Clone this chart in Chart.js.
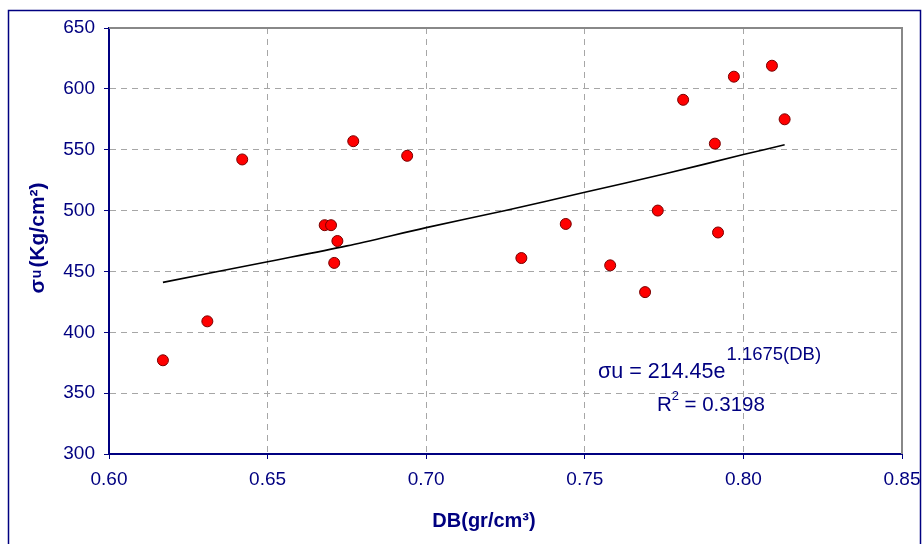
<!DOCTYPE html>
<html>
<head>
<meta charset="utf-8">
<script src="https://cdn.jsdelivr.net/npm/chart.js@4/dist/chart.umd.min.js"></script>
<style>
  html, body { margin: 0; padding: 0; background: #fff; }
  #wrap { width: 923px; height: 544px; position: relative; }
</style>
</head>
<body>
<div id="wrap"><canvas id="c"></canvas></div>
<script>
// measured samples: density DB (gr/cm3) vs strength (Kg/cm2)
const dbValues = [0.617, 0.631, 0.642, 0.668, 0.670, 0.671, 0.672, 0.677, 0.694, 0.730,
                  0.744, 0.758, 0.769, 0.773, 0.781, 0.791, 0.792, 0.797, 0.809, 0.813];
const sigmaValues = [377, 409, 542, 488, 488, 457, 475, 557, 545, 461,
                     489, 455, 433, 500, 591, 555, 482, 610, 619, 575];

// exponential trend line
const trendDB    = [0.617, 0.650, 0.675, 0.700, 0.725, 0.750, 0.775, 0.800, 0.813];
const trendSigma = [441, 458, 471, 486, 500, 515, 530, 546, 554];

const xTicks = { min: 0.60, max: 0.85, step: 0.05 };
const yTicks = { min: 300, max: 650, step: 50 };

const eqMain = 'σu = 214.45e';
const eqExp  = '1.1675(DB)';
const eqR2   = '0.3198';

const NAVY = '#000080';
const FONT = '"Liberation Sans", Arial, sans-serif';

const decor = {
  id: 'decor',
  beforeDraw(chart) {
    const c = chart.ctx;
    c.save();
    c.fillStyle = '#fff';
    c.fillRect(0, 0, chart.width, chart.height);
    c.strokeStyle = NAVY;
    c.lineWidth = 1.5;
    c.strokeRect(8.5, 10.5, 912, 560);
    c.restore();
  },
  afterDraw(chart) {
    const c = chart.ctx, a = chart.chartArea;
    c.save();
    // top & right plot border
    c.strokeStyle = '#888';
    c.lineWidth = 2;
    c.beginPath();
    c.moveTo(a.left, a.top);
    c.lineTo(a.right, a.top);
    c.lineTo(a.right, a.bottom);
    c.stroke();

    c.fillStyle = NAVY;
    // x title
    c.font = 'bold 20px ' + FONT;
    c.textAlign = 'center';
    c.textBaseline = 'middle';
    c.fillText('DB(gr/cm³)', 484, 521);

    // y title, rotated
    c.save();
    c.translate(37, 238);
    c.rotate(-Math.PI / 2);
    const p1 = 'σ', p2 = 'u', p3 = '(Kg/cm²)';
    c.font = 'bold 21px ' + FONT;
    const w1 = c.measureText(p1).width, w3 = c.measureText(p3).width;
    c.font = 'bold 14px ' + FONT;
    const w2 = c.measureText(p2).width + 3;
    let x = -(w1 + w2 + w3) / 2;
    c.textAlign = 'left';
    c.textBaseline = 'alphabetic';
    c.font = 'bold 21px ' + FONT;
    c.fillText(p1, x, 7);
    c.font = 'bold 14px ' + FONT;
    c.fillText(p2, x + w1 + 1, 4);
    c.font = 'bold 21px ' + FONT;
    c.fillText(p3, x + w1 + w2, 7);
    c.restore();

    // trend equation
    c.textAlign = 'left';
    c.textBaseline = 'alphabetic';
    c.font = '21.5px ' + FONT;
    c.fillText(eqMain, 598, 378);
    const wm = c.measureText(eqMain).width;
    c.font = '18.5px ' + FONT;
    c.fillText(eqExp, 599 + wm, 360);
    c.font = '20.5px ' + FONT;
    c.fillText('R', 657, 411);
    const wr = c.measureText('R').width;
    c.font = '13px ' + FONT;
    c.fillText('2', 657 + wr, 400);
    c.font = '20.5px ' + FONT;
    c.fillText(' = ' + eqR2, 657 + wr + 7, 411);
    c.restore();
  }
};

new Chart(document.getElementById('c'), {
  type: 'scatter',
  data: {
    datasets: [
      {
        label: 'samples',
        data: dbValues.map((x, i) => ({ x: x, y: sigmaValues[i] })),
        backgroundColor: '#ff0000',
        borderColor: '#7a0000',
        borderWidth: 1,
        pointRadius: 5.5,
        order: 1
      },
      {
        label: 'trend',
        type: 'line',
        data: trendDB.map((x, i) => ({ x: x, y: trendSigma[i] })),
        borderColor: '#000',
        borderWidth: 1.6,
        pointRadius: 0,
        tension: 0.3,
        fill: false,
        order: 2
      }
    ]
  },
  options: {
    responsive: true,
    maintainAspectRatio: false,
    animation: false,
    layout: { padding: { top: 28, right: 21, left: 0, bottom: 0 } },
    plugins: { legend: { display: false }, tooltip: { enabled: false } },
    scales: {
      x: {
        type: 'linear',
        min: xTicks.min, max: xTicks.max,
        afterFit: s => { s.height = 90; s.paddingRight = 0; s.paddingLeft = 0; },
        grid: { color: '#a6a6a6', tickColor: NAVY, tickLength: 5, lineWidth: 1 },
        border: { color: NAVY, width: 2, dash: [6, 5] },
        ticks: {
          stepSize: xTicks.step, color: NAVY, padding: 9,
          font: { family: FONT, size: 19 },
          callback: v => (+v).toFixed(2)
        }
      },
      y: {
        min: yTicks.min, max: yTicks.max,
        afterFit: s => { s.width = 109; s.paddingTop = 0; s.paddingBottom = 0; },
        grid: { color: '#a6a6a6', tickColor: NAVY, tickLength: 5, lineWidth: 1 },
        border: { color: NAVY, width: 2, dash: [6, 5] },
        ticks: {
          stepSize: yTicks.step, color: NAVY, padding: 9,
          font: { family: FONT, size: 19 }
        }
      }
    }
  },
  plugins: [decor]
});
</script>
</body>
</html>
